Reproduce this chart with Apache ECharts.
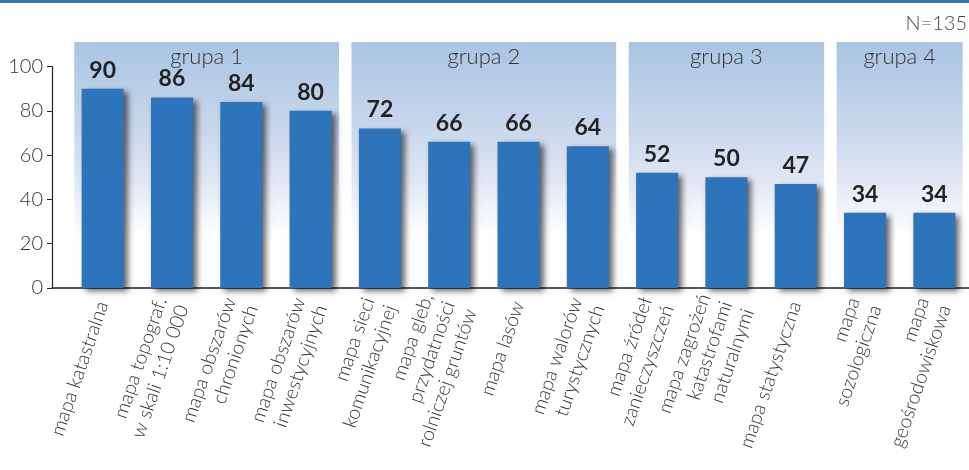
<!DOCTYPE html>
<html>
<head>
<meta charset="utf-8">
<script src="https://cdn.jsdelivr.net/npm/echarts@6/dist/echarts.min.js"></script>
<style>
  html, body { margin: 0; padding: 0; background: #fff; }
  #chart { width: 969px; height: 470px; }
</style>
</head>
<body>
<div id="chart"></div>
<script>
// Map types and share of respondents (%)
const categories = [
  'mapa katastralna',
  'mapa topograf.\nw skali 1:10 000',
  'mapa obszarów\nchronionych',
  'mapa obszarów\ninwestycyjnych',
  'mapa sieci\nkomunikacyjnej',
  'mapa gleb,\nprzydatności\nrolniczej gruntów',
  'mapa lasów',
  'mapa walorów\nturystycznych',
  'mapa źródeł\nzanieczyszczeń',
  'mapa zagrożeń\nkatastrofami\nnaturalnymi',
  'mapa statystyczna',
  'mapa\nsozologiczna',
  'mapa\ngeośrodowiskowa'
];
const values = [90, 86, 84, 80, 72, 66, 66, 64, 52, 50, 47, 34, 34];

// Groups: name and number of consecutive categories in each
const groupNames = ['grupa 1', 'grupa 2', 'grupa 3', 'grupa 4'];
const groupSizes = [4, 4, 3, 2];

const yTicks = [0, 20, 40, 60, 80, 100];
const sampleNote = 'N=135';

const FONT = 'Lato, "Noto Sans", sans-serif';
const BAR_BLUE = '#2d74ba';

// Build group panel ranges in category units
const panelInset = 0.09;
const groupRanges = [];
let start = 0;
groupSizes.forEach((n, i) => {
  groupRanges.push([start + panelInset, start + n - panelInset, groupNames[i]]);
  start += n;
});

const plotLeft = 68;
const plotWidth = 907;
const plotBottom = 182;

const chart = echarts.init(document.getElementById('chart'), null, { renderer: 'canvas' });

chart.setOption({
  animation: false,
  backgroundColor: '#ffffff',
  graphic: [
    { type: 'rect', left: 0, top: 0, shape: { width: 969, height: 3 }, style: { fill: '#3775b6' }, z: 10 },
    { type: 'text', right: 2, top: 14, style: { text: sampleNote, font: '300 20px ' + FONT, fill: '#444' }, z: 10 }
  ],
  grid: [
    { left: plotLeft, width: plotWidth, top: 66.5, bottom: plotBottom, containLabel: false },
    { left: 52, right: 0, top: 66.5, bottom: plotBottom, containLabel: false },
    { left: plotLeft, width: plotWidth, top: 42, bottom: plotBottom, containLabel: false }
  ],
  xAxis: [
    {
      type: 'category', gridIndex: 0, data: categories,
      axisLine: { show: false }, axisTick: { show: false },
      axisLabel: {
        interval: 0, rotate: 71, margin: 14,
        fontFamily: FONT, fontWeight: 300, fontSize: 19.5, lineHeight: 23,
        color: '#333', align: 'right'
      }
    },
    {
      type: 'category', gridIndex: 1, data: [''],
      axisLine: { show: true, lineStyle: { color: '#222', width: 1.5 } },
      axisTick: { show: false }, axisLabel: { show: false }, splitLine: { show: false }
    },
    { type: 'value', gridIndex: 2, min: 0, max: categories.length, show: false }
  ],
  yAxis: [
    {
      type: 'value', gridIndex: 0, min: yTicks[0], max: yTicks[yTicks.length - 1], interval: 20,
      offset: 16,
      axisLine: { show: true, lineStyle: { color: '#222', width: 1.2 } },
      axisTick: { show: true, length: 5, lineStyle: { color: '#222' } },
      splitLine: { show: false },
      axisLabel: { fontFamily: FONT, fontWeight: 300, fontSize: 20, color: '#333', margin: 9 }
    },
    { type: 'value', gridIndex: 1, min: 0, max: 100, show: false },
    { type: 'value', gridIndex: 2, min: 0, max: 1, show: false }
  ],
  series: [
    {
      // Shaded group panels with their titles
      type: 'custom', xAxisIndex: 2, yAxisIndex: 2, z: 0, silent: true,
      data: groupRanges,
      renderItem: function (params, api) {
        const p0 = api.coord([api.value(0), 1]);
        const p1 = api.coord([api.value(1), 0]);
        const w = p1[0] - p0[0];
        const h = p1[1] - p0[1];
        return {
          type: 'group',
          children: [
            {
              type: 'rect',
              shape: { x: p0[0], y: p0[1], width: w, height: h },
              style: {
                fill: new echarts.graphic.LinearGradient(0, 0, 0, 1, [
                  { offset: 0, color: '#a9c5e2' },
                  { offset: 0.36, color: '#cad7ec' },
                  { offset: 0.56, color: '#e1e7f3' },
                  { offset: 0.72, color: '#f6f8fc' },
                  { offset: 0.8, color: '#ffffff' },
                  { offset: 1, color: '#ffffff' }
                ])
              }
            },
            {
              type: 'text',
              style: {
                x: p0[0] + w / 2, y: p0[1] + 15,
                text: groupRanges[params.dataIndex][2],
                font: '300 22px ' + FONT, fill: '#333',
                align: 'center', verticalAlign: 'middle'
              }
            }
          ]
        };
      }
    },
    {
      type: 'bar', xAxisIndex: 0, yAxisIndex: 0, z: 5,
      data: values, barWidth: 42,
      itemStyle: {
        color: BAR_BLUE,
        shadowColor: 'rgba(0,0,0,0.6)', shadowBlur: 6, shadowOffsetX: 4, shadowOffsetY: 3
      },
      label: {
        show: true, position: 'top', distance: 7,
        fontFamily: FONT, fontWeight: 'bold', fontSize: 23, color: '#222'
      }
    },
    {
      // baseline across the full plot width
      type: 'bar', xAxisIndex: 1, yAxisIndex: 1, data: [], silent: true
    }
  ]
});
</script>
</body>
</html>
